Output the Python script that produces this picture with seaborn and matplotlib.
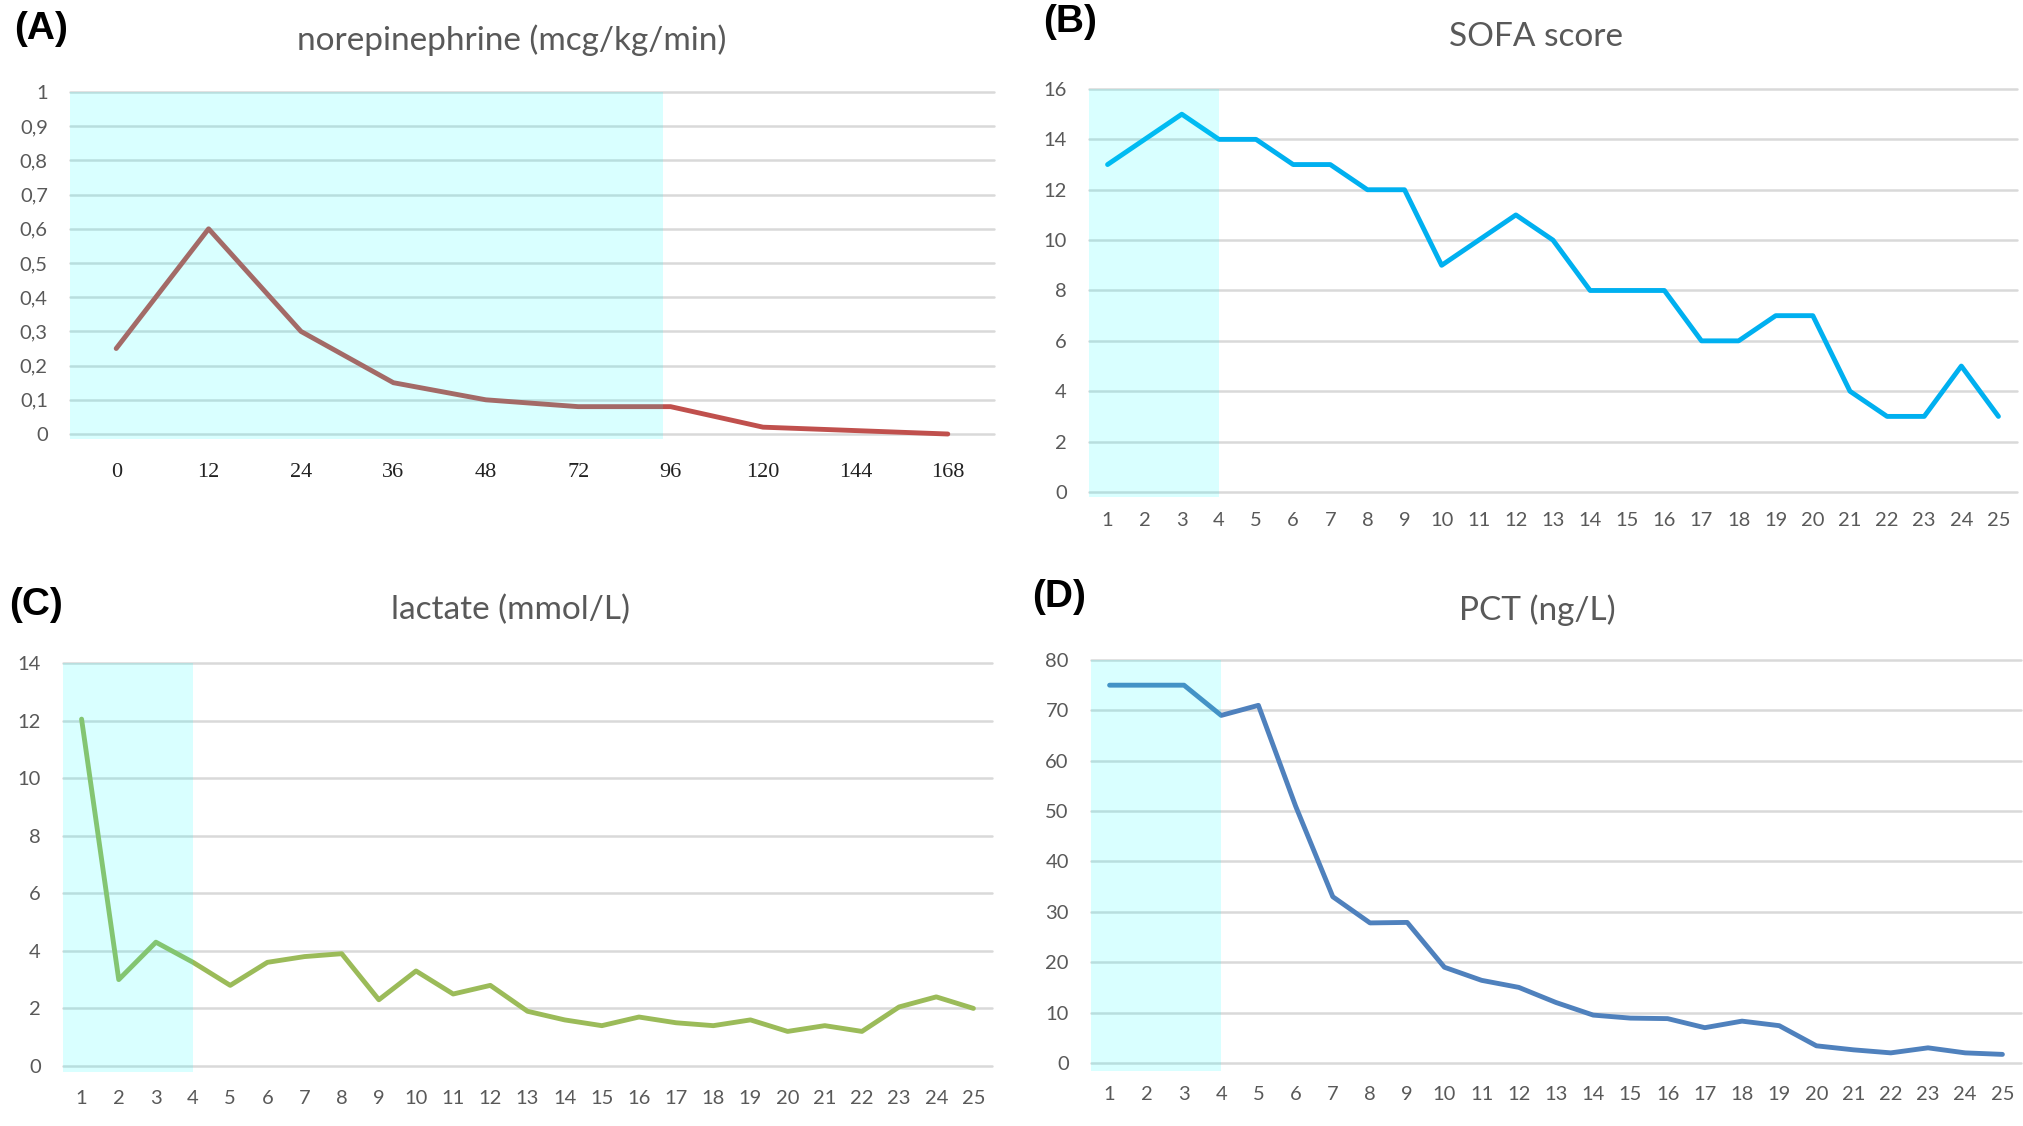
import matplotlib
matplotlib.use("Agg")
import matplotlib.pyplot as plt
import seaborn as sb
import pandas as pd

# values
ne_hours = ["0", "12", "24", "36", "48", "72", "96", "120", "144", "168"]
ne_dose = [0.25, 0.60, 0.30, 0.15, 0.10, 0.08, 0.08, 0.02, 0.01, 0.0]

days = [str(d) for d in range(1, 26)]
sofa = [13, 14, 15, 14, 14, 13, 13, 12, 12, 9, 10, 11, 10, 8, 8, 8, 6, 6, 7, 7, 4, 3, 3, 5, 3]
lactate = [12.05, 3.0, 4.3, 3.6, 2.8, 3.6, 3.8, 3.9, 2.3, 3.3, 2.5, 2.8, 1.9, 1.6, 1.4,
           1.7, 1.5, 1.4, 1.6, 1.2, 1.4, 1.2, 2.05, 2.4, 2.0]
pct = [75, 75, 75, 69, 71, 51, 33, 27.8, 27.9, 19, 16.4, 15, 12, 9.5, 8.9, 8.8, 7, 8.3,
       7.4, 3.4, 2.6, 2.0, 3.0, 2.0, 1.7]

sb.set_style("white")
plt.rcParams["font.family"] = ["Lato", "DejaVu Sans"]

W, H = 2024, 1126
fig = plt.figure(figsize=(W / 100, H / 100), dpi=100)

GRAY = "#595959"
SHADE = "#00FFFF"


def make_axes(left, top, right, bottom):
    return fig.add_axes([left / W, 1 - bottom / H, (right - left) / W, (bottom - top) / H])


def style_axes(ax, ylim, yticks, xpad):
    ax.set_ylim(*ylim)
    ax.set_yticks(yticks)
    ax.yaxis.grid(True, color="#D9D9D9", lw=1.8)
    ax.xaxis.grid(False)
    ax.set_axisbelow(True)
    for gl in ax.get_ygridlines():
        gl.set_clip_on(False)
    for s in ax.spines.values():
        s.set_visible(False)
    ax.tick_params(axis="both", length=0, labelsize=14.5, labelcolor=GRAY)
    ax.tick_params(axis="y", pad=16)
    ax.tick_params(axis="x", pad=xpad)
    ax.set_xlabel("")
    ax.set_ylabel("")


def draw(ax, x, y, color, shade_end):
    df = pd.DataFrame({"x": x, "y": y})
    sb.lineplot(data=df, x="x", y="y", ax=ax, color=color, lw=3.5, sort=False,
                solid_joinstyle="round", solid_capstyle="round")
    ax.set_xlim(-0.5, len(x) - 0.5)
    ax.axvspan(-0.5, shade_end, ymin=0, ymax=1, color=SHADE, alpha=0.15, lw=0, zorder=5)


# (A) norepinephrine
axA = make_axes(70, 92, 994, 439)
draw(axA, ne_hours, ne_dose, "#C0504D", 5.92)
style_axes(axA, (-0.0146, 1.0), [i / 10 for i in range(11)], 17)
axA.set_yticklabels([f"{i / 10:g}".replace(".", ",") for i in range(11)])
for t in axA.get_xticklabels():
    t.set_fontfamily("Liberation Serif")
    t.set_color("#222222")
    t.set_fontsize(16)

# (B) SOFA
axB = make_axes(1089, 89, 2017, 497)
draw(axB, days, sofa, "#00B0F0", 3)
style_axes(axB, (-0.2, 16), range(0, 17, 2), 11)

# (C) lactate
axC = make_axes(63, 663, 992, 1072)
draw(axC, days, lactate, "#9BBB59", 3)
style_axes(axC, (-0.21, 14), range(0, 15, 2), 13)

# (D) PCT
axD = make_axes(1091, 660, 2021, 1071)
draw(axD, days, pct, "#4F81BD", 3)
style_axes(axD, (-1.6, 80), range(0, 81, 10), 11)

titles = [("norepinephrine (mcg/kg/min)", 512, 40), ("SOFA score", 1536, 37),
          ("lactate (mmol/L)", 511, 610), ("PCT (ng/L)", 1537, 610)]
for txt, x, y in titles:
    fig.text(x / W, 1 - y / H, txt, ha="center", va="center", fontsize=24, color=GRAY)

labels = [("(A)", 14, 29), ("(B)", 1043, 22), ("(C)", 9, 605), ("(D)", 1032, 597)]
for txt, x, y in labels:
    fig.text(x / W, 1 - y / H, txt, ha="left", va="center", fontsize=28,
             fontweight="bold", family="Liberation Sans", color="black")

plt.savefig("out.png", dpi=100)
